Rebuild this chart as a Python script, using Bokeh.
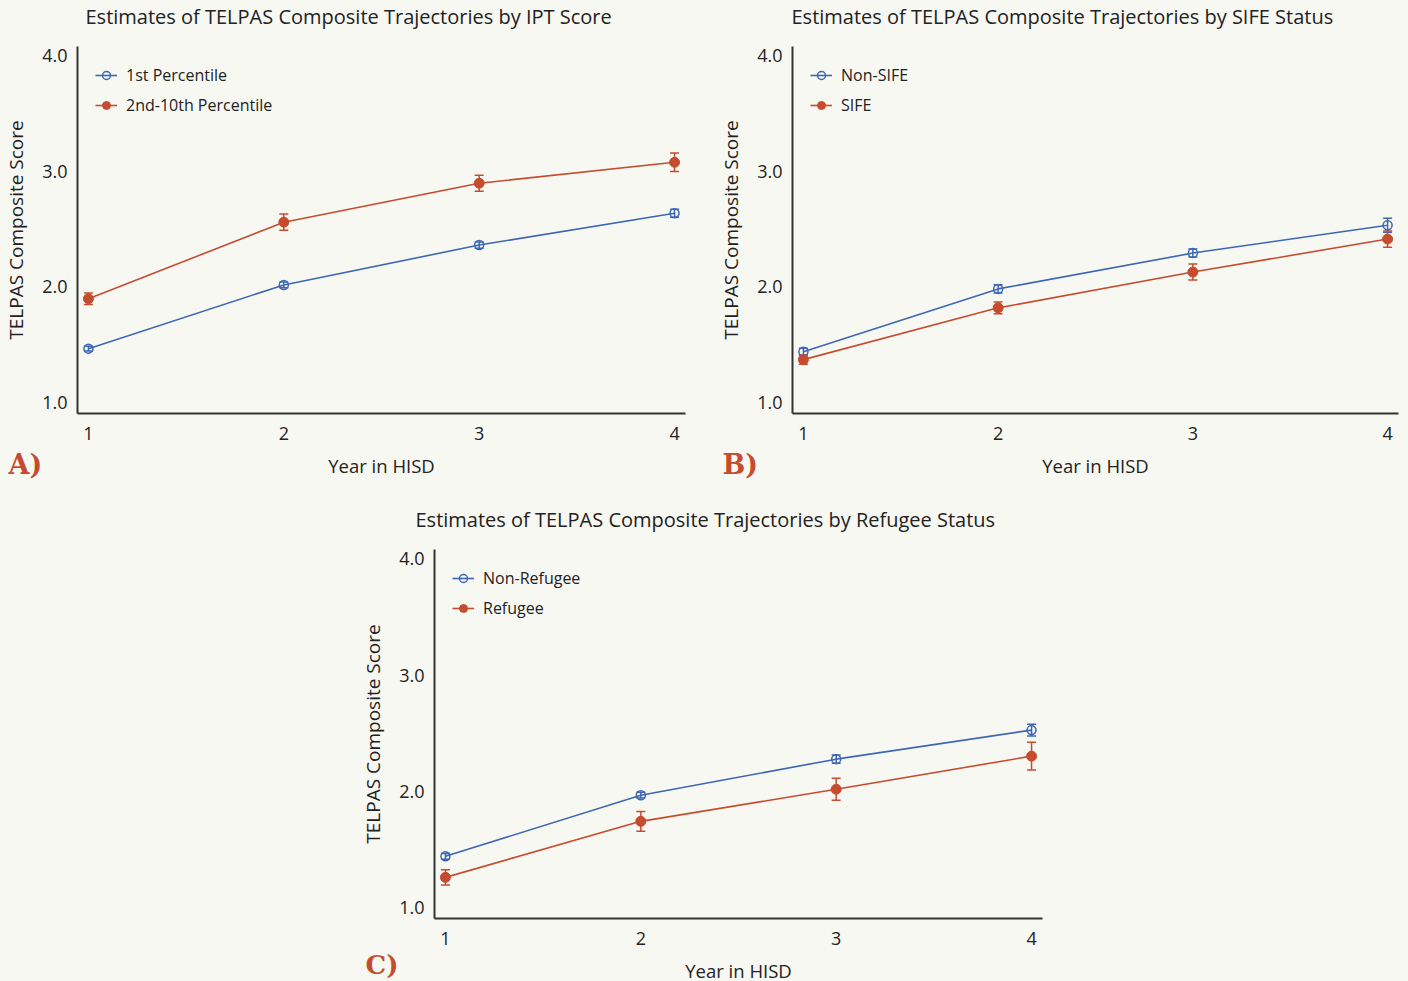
from bokeh.plotting import figure
from bokeh.models import ColumnDataSource, Whisker, Legend, LegendItem, FixedTicker, Spacer, Range1d, Title
from bokeh.layouts import column, row
from bokeh.embed import file_html
from bokeh.resources import INLINE

years = [1, 2, 3, 4]

# Panel A: IPT Score
a_titles = "Estimates of TELPAS Composite Trajectories by IPT Score"
a_names = ["1st Percentile", "2nd-10th Percentile"]
a_blue = [1.466, 2.017, 2.362, 2.638]
a_blue_err = [0.02, 0.025, 0.027, 0.035]
a_red = [1.897, 2.560, 2.897, 3.078]
a_red_err = [0.05, 0.07, 0.07, 0.08]

# Panel B: SIFE Status
b_titles = "Estimates of TELPAS Composite Trajectories by SIFE Status"
b_names = ["Non-SIFE", "SIFE"]
b_blue = [1.440, 1.983, 2.293, 2.534]
b_blue_err = [0.03, 0.035, 0.035, 0.06]
b_red = [1.371, 1.819, 2.129, 2.414]
b_red_err = [0.04, 0.05, 0.07, 0.07]

# Panel C: Refugee Status
c_titles = "Estimates of TELPAS Composite Trajectories by Refugee Status"
c_names = ["Non-Refugee", "Refugee"]
c_blue = [1.440, 1.966, 2.276, 2.526]
c_blue_err = [0.025, 0.025, 0.035, 0.05]
c_red = [1.259, 1.741, 2.017, 2.302]
c_red_err = [0.065, 0.085, 0.095, 0.12]

y_ticks = [1.0, 2.0, 3.0, 4.0]
y_tick_labels = {1.0: "1.0", 2.0: "2.0", 3.0: "3.0", 4.0: "4.0"}
panel_tags = ["A)", "B)", "C)"]

BG = "#f8f8f3"
BLUE = "#3d67b4"
RED = "#c64c2f"
AX = "#333333"
TXT = "#222222"
FONT = "Open Sans"

X0, X1 = 0.944, 4.056
Y0, Y1 = 0.905, 4.08


def make_panel(title, names, blue, blue_err, red, red_err, tag, tag_dx, tag_standoff, tag_size,
               title_dx, width, height, bl, br, bt, bb):
    p = figure(width=width, height=height, output_backend="svg",
               toolbar_location=None, tools="",
               x_range=Range1d(X0, X1), y_range=Range1d(Y0, Y1),
               min_border_left=bl, min_border_right=br,
               min_border_top=bt, min_border_bottom=bb,
               background_fill_color=BG, border_fill_color=BG)
    p.outline_line_color = None
    p.grid.grid_line_color = None
    p.title = None

    # spacer between frame and title, then the title itself
    p.add_layout(Title(text=" ", text_font_size="1px", standoff=14), "above")
    p.add_layout(Title(text=title, align="left", offset=title_dx, standoff=0,
                       text_font=FONT, text_font_size="20px",
                       text_font_style="normal", text_color=TXT), "above")

    for ax in (p.xaxis[0], p.yaxis[0]):
        ax.axis_line_color = AX
        ax.axis_line_width = 2
        ax.major_tick_line_color = None
        ax.minor_tick_line_color = None
        ax.major_tick_out = 0
        ax.major_tick_in = 0
        ax.minor_tick_out = 0
        ax.major_label_text_font = FONT
        ax.major_label_text_font_size = "18px"
        ax.major_label_text_color = TXT
        ax.axis_label_text_font = FONT
        ax.axis_label_text_font_style = "normal"
        ax.axis_label_text_color = TXT

    p.xaxis.ticker = FixedTicker(ticks=years)
    p.xaxis.major_label_standoff = 13
    p.xaxis.axis_label = "Year in HISD"
    p.xaxis.axis_label_text_font_size = "18.5px"
    p.xaxis.axis_label_standoff = 10

    p.yaxis.ticker = FixedTicker(ticks=y_ticks)
    p.yaxis.major_label_overrides = y_tick_labels
    p.yaxis.major_label_standoff = 10
    p.yaxis.axis_label = "TELPAS Composite Score"
    p.yaxis.axis_label_text_font_size = "19px"
    p.yaxis.axis_label_standoff = 10

    items = []
    for vals, errs, color, name, filled in ((blue, blue_err, BLUE, names[0], False),
                                            (red, red_err, RED, names[1], True)):
        src = ColumnDataSource(dict(x=years, y=vals,
                                    lo=[v - e for v, e in zip(vals, errs)],
                                    hi=[v + e for v, e in zip(vals, errs)]))
        ln = p.line("x", "y", source=src, line_color=color, line_width=1.6)
        w = Whisker(source=src, base="x", upper="hi", lower="lo",
                    line_color=color, line_width=1.5)
        w.upper_head.size = 9
        w.lower_head.size = 9
        w.upper_head.line_color = color
        w.lower_head.line_color = color
        w.upper_head.line_width = 1.5
        w.lower_head.line_width = 1.5
        p.add_layout(w)
        if filled:
            sc = p.scatter("x", "y", source=src, size=10, marker="circle",
                           fill_color=color, line_color=color, line_width=1)
        else:
            sc = p.scatter("x", "y", source=src, size=9, marker="circle",
                           fill_color=None, line_color=color, line_width=1.5)
        items.append(LegendItem(label=name, renderers=[ln, sc]))

    leg = Legend(items=items, location="top_left", margin=18, padding=0,
                 spacing=8, glyph_width=22, glyph_height=20, label_standoff=9,
                 label_text_font=FONT, label_text_font_size="16px",
                 label_text_color=TXT,
                 border_line_color=None, background_fill_alpha=0)
    p.add_layout(leg)

    # panel tag ("A)" etc.) at the lower left, level with the x-axis label
    p.add_layout(Title(text=tag, align="left", offset=tag_dx, vertical_align="top",
                       standoff=tag_standoff, text_font="DejaVu Serif", text_font_style="bold",
                       text_font_size=tag_size, text_color=RED), "below")
    return p


pa = make_panel(a_titles, a_names, a_blue, a_blue_err, a_red, a_red_err, panel_tags[0],
                -69, -64, "27px", 8, 714, 490, 77, 29, 45, 77)
pb = make_panel(b_titles, b_names, b_blue, b_blue_err, b_red, b_red_err, panel_tags[1],
                -70, -64, "27px", -1, 694, 490, 78, 10, 45, 77)
pc = make_panel(c_titles, c_names, c_blue, c_blue_err, c_red, c_red_err, panel_tags[2],
                -69, -72, "26px", -19, 705, 500, 77, 20, 59, 72)

sp = Spacer(width=357, height=500)
layout = column(row(pa, pb), row(sp, pc))

html = file_html(layout, INLINE)
html = html.replace("<head>", "<head><style>html, body { background: %s; margin: 0; overflow: hidden; }</style>" % BG, 1)
open("out.html", "w").write(html)
